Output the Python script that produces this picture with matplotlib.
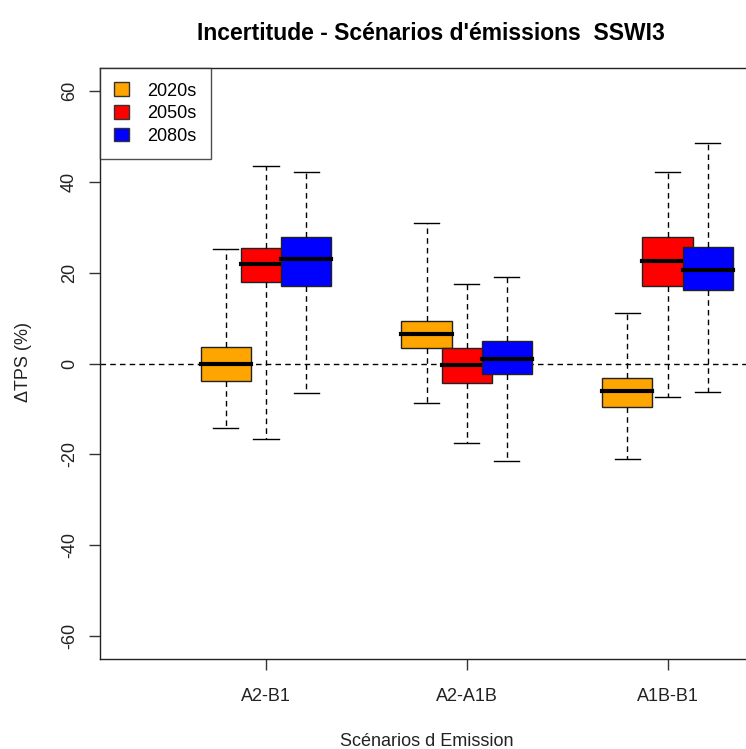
import matplotlib
matplotlib.use("Agg")
import matplotlib.pyplot as plt
from matplotlib.patches import Patch

plt.rcParams["font.family"] = ["Liberation Sans", "DejaVu Sans"]

# scenario comparisons and periods
groups = ["A2-B1", "A2-A1B", "A1B-B1"]
periods = ["2020s", "2050s", "2080s"]
colors = ["orange", "red", "blue"]

# box statistics per period, one value per group (ΔTPS %)
whislo = {
    "2020s": [-14.1, -8.6, -21.0],
    "2050s": [-16.6, -17.5, -7.3],
    "2080s": [-6.6, -21.4, -6.3],
}
q1 = {
    "2020s": [-3.9, 3.5, -9.6],
    "2050s": [18.0, -4.2, 17.1],
    "2080s": [17.1, -2.3, 16.3],
}
med = {
    "2020s": [0.0, 6.6, -6.0],
    "2050s": [22.0, -0.3, 22.6],
    "2080s": [23.1, 1.1, 20.5],
}
q3 = {
    "2020s": [3.6, 9.4, -3.3],
    "2050s": [25.4, 3.4, 27.8],
    "2080s": [27.8, 5.0, 25.7],
}
whishi = {
    "2020s": [25.2, 30.9, 11.1],
    "2050s": [43.6, 17.5, 42.2],
    "2080s": [42.2, 19.1, 48.5],
}

offsets = [-0.2, 0.0, 0.2]
box_w = 0.25

fig = plt.figure(figsize=(7.46, 7.49), dpi=100)
ax = fig.add_axes([100 / 746, 1 - 659 / 749, 650 / 746, (659 - 68) / 749])

ax.axhline(0, color="black", lw=1, ls=(0, (4, 3)), zorder=1)

for k, p in enumerate(periods):
    stats = []
    for i in range(len(groups)):
        stats.append(dict(whislo=whislo[p][i], q1=q1[p][i], med=med[p][i],
                          q3=q3[p][i], whishi=whishi[p][i], fliers=[]))
    pos = [i + 1 + offsets[k] for i in range(len(groups))]
    ax.bxp(stats, positions=pos, widths=box_w, capwidths=box_w / 2,
           patch_artist=True, showfliers=False, manage_ticks=False,
           boxprops=dict(facecolor=colors[k], edgecolor="#222222", lw=1),
           medianprops=dict(color="black", lw=3, solid_capstyle="projecting"),
           whiskerprops=dict(color="black", lw=1, ls=(0, (4, 3))),
           capprops=dict(color="black", lw=1),
           zorder=2 + k)

ax.set_xlim(1 - 167 / 202, 3 + 83 / 202)
ax.set_ylim(-65.1, 65.1)
ax.set_xticks([1, 2, 3])
ax.set_xticklabels(groups)
ax.set_yticks([-60, -40, -20, 0, 20, 40, 60])
ax.set_yticklabels(["-60", "-40", "-20", "0", "20", "40", "60"],
                   rotation=90, va="center")
ax.tick_params(axis="both", direction="out", length=8, width=1,
               colors="#333333", labelsize=13, labelcolor="#222222")
ax.tick_params(axis="y", pad=8)
ax.tick_params(axis="x", pad=13)
for s in ax.spines.values():
    s.set_color("#222222")
    s.set_linewidth(1)
ax.spines["right"].set_visible(False)

handles = [Patch(facecolor=c, edgecolor="#333333", label=p)
           for p, c in zip(periods, colors)]
leg = ax.legend(handles=handles, loc="upper left", borderaxespad=0,
                fontsize=13, frameon=True, fancybox=False,
                handlelength=0.8, handleheight=0.8, handletextpad=1.0,
                labelspacing=0.3, borderpad=0.8)
leg.get_frame().set_edgecolor("#222222")
leg.get_frame().set_linewidth(1)

fig.text(431 / 746, 1 - 33 / 749, "Incertitude - Scénarios d'émissions  SSWI3",
         ha="center", va="center", fontsize=16.5, fontweight="bold")
fig.text(24 / 746, 1 - 362 / 749, "ΔTPS (%)", rotation=90,
         ha="center", va="center", fontsize=13, color="#222222")
fig.text(427 / 746, 1 - 741 / 749, "Scénarios d Emission",
         ha="center", va="center", fontsize=13, color="#222222")

fig.savefig("out.png", dpi=100)
